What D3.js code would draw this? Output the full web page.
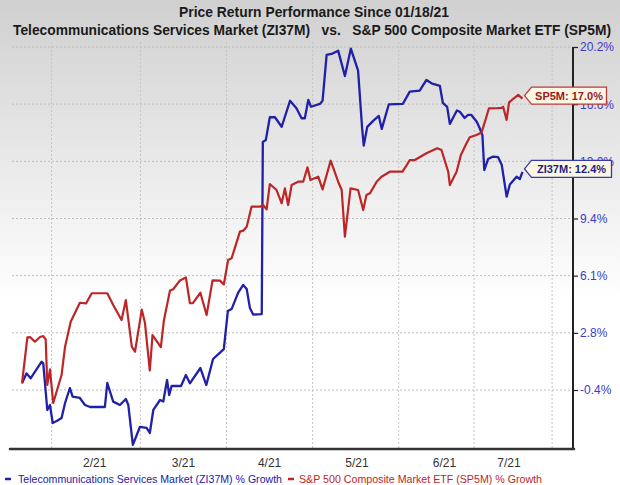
<!DOCTYPE html>
<html><head><meta charset="utf-8">
<script src="https://cdn.jsdelivr.net/npm/d3@7"></script>
<style>html,body{margin:0;padding:0;background:#fff}svg{display:block}</style>
</head><body>
<svg id="c" width="620" height="485"></svg>
<script>
// ---- data (days since 01/18/21, % growth) ----
const titleLines = ["Price Return Performance Since 01/18/21",
  "Telecommunications Services Market (ZI37M)   vs.   S&P 500 Composite Market ETF (SP5M)"];
const monthLabels = ["2/21","3/21","4/21","5/21","6/21","7/21"];
const monthLabelDays = [27, 60, 92, 124.5, 157, 181];
const gridDays = [11, 44, 76, 108, 140, 168, 197];
const yTickLabels = ["-0.4%","2.8%","6.1%","9.4%","13.0%","16.6%","20.2%"];
const seriesNames = ["Telecommunications Services Market (ZI37M) % Growth",
  "S&P 500 Composite Market ETF (SP5M) % Growth"];
const endLabels = ["ZI37M: 12.4%", "SP5M: 17.0%"];

const ziDays = [0,1.7,3.2,7.3,7.9,9.4,10.4,11.4,12.9,14.7,16.0,17.8,18.8,21.5,23.4,25.3,30.8,31.7,33.9,36.4,38.6,39.5,41.2,43.8,46.3,47.5,48.8,51.3,52.5,53.9,54.7,55.6,59.1,60.9,62.4,66.3,68.5,71.0,74.2,75.0,76.5,77.9,80.3,82.2,83.5,84.7,85.9,88.8,89.1,89.5,90.6,92.1,94.0,96.5,99.6,102.0,103.9,105.1,106.4,107.4,110.7,111.7,113.2,115.0,117.5,120.0,122.2,124.9,126.4,127.0,128.3,130.5,132.6,133.7,136.3,141.5,144.1,147.8,150.3,152.2,155.3,156.4,158.0,159.0,161.6,162.7,164.5,165.8,167.0,169.0,170.1,171.1,171.8,173.2,175.1,176.9,178.3,180.1,181.3,183.8,185.0,186.0];
const ziPct = [0,0.60,0.30,1.30,1.20,-1.60,-1.30,-2.38,-2.26,-2.08,-1.18,-0.28,-0.80,-0.88,-1.30,-1.42,-1.42,0.02,-1.10,-1.30,-0.94,-1.30,-3.70,-2.62,-2.68,-2.98,-1.60,-1.00,-1.09,0.20,-0.70,-0.16,-0.16,0.50,0.00,0.92,-0.10,1.46,1.94,2.06,4.34,4.46,5.43,5.91,5.67,4.52,4.13,4.16,4.16,14.50,14.61,15.98,15.98,15.41,16.97,16.52,15.92,15.92,17.02,16.61,16.78,16.97,19.72,19.78,19.98,18.46,20.10,18.78,15.32,14.28,15.40,15.76,16.06,15.28,16.75,16.78,17.52,17.58,18.22,18.02,17.86,16.84,16.60,15.58,16.39,16.31,15.94,16.12,16.12,15.71,15.32,14.91,12.81,13.47,13.62,13.59,13.11,11.21,11.94,12.41,12.27,12.70];

const spDays = [0,2.0,3.0,4.8,6.7,7.9,8.8,9.4,10.4,11.6,14.7,16.0,18.1,21.5,23.8,25.9,31.7,33.9,37.0,38.6,40.8,42.0,44.5,45.7,47.5,48.5,51.6,52.7,55.0,56.2,58.7,60.9,62.4,63.5,66.3,68.6,70.8,73.6,75.0,76.6,77.9,81.0,82.2,83.5,85.3,88.4,89.6,90.9,92.1,94.6,96.5,97.7,98.9,100.2,102.6,104.5,106.1,107.2,110.1,111.7,114.7,117.5,118.8,120.0,122.1,124.9,126.8,128.0,129.3,131.8,133.6,136.7,141.4,142.6,144.1,146.0,150.3,154.3,155.9,158.4,159.0,161.5,163.1,165.2,166.4,168.9,170.8,172.6,173.5,176.3,178.2,178.8,180.1,181.0,182.8,184.4,186.0];
const spPct = [0,2.76,2.78,2.50,2.78,2.84,2.64,-0.10,0.84,-1.18,0.50,2.20,3.70,4.84,4.80,5.41,5.41,4.70,3.80,5.00,2.20,1.90,4.43,3.62,0.77,2.90,2.18,3.74,5.58,5.65,6.18,6.36,4.81,4.82,5.44,4.10,6.18,6.17,5.94,7.41,7.51,9.11,9.17,9.41,10.61,10.61,10.71,10.45,11.97,11.61,10.81,11.71,10.71,11.91,12.11,12.11,12.97,12.21,12.41,11.65,13.37,12.11,11.61,8.81,11.71,11.61,10.41,11.31,11.41,12.11,12.41,12.71,12.71,13.01,13.41,13.41,13.82,14.12,14.01,12.71,11.91,12.71,13.71,14.42,14.78,14.92,15.07,16.01,16.51,16.52,16.54,16.61,15.82,16.87,17.12,17.32,17.10];

const blue = "#2020a8", red = "#bd2626";
const svg = d3.select("#c");
const W = 620, H = 485;
const plot = {l: 12, r: 573, t: 42, b: 449};

// background gradient
const defs = svg.append("defs");
const g0 = defs.append("linearGradient").attr("id","bg").attr("x1",0).attr("y1",0).attr("x2",0).attr("y2",1);
g0.append("stop").attr("offset","0%").attr("stop-color","#d0d0d0");
g0.append("stop").attr("offset","62%").attr("stop-color","#ffffff");
g0.append("stop").attr("offset","100%").attr("stop-color","#ffffff");
svg.append("rect").attr("width",W).attr("height",H).attr("fill","url(#bg)");

const x = d3.scaleLinear().domain([0,186]).range([22,522.5]);
const y = d3.scaleLinear().domain([-0.4,20.2]).range([390,47]);
const yTickValues = yTickLabels.map((d,i)=> -0.4 + i*(20.6/(yTickLabels.length-1)));

// grid
svg.append("g").selectAll("line").data(yTickValues).join("line")
  .attr("x1",plot.l).attr("x2",plot.r).attr("y1",d=>y(d)).attr("y2",d=>y(d))
  .attr("stroke","#bcbcbc").attr("stroke-width",1).attr("stroke-dasharray","2,2");
svg.append("g").selectAll("line").data(gridDays).join("line")
  .attr("x1",d=>x(d)).attr("x2",d=>x(d)).attr("y1",plot.t).attr("y2",plot.b)
  .attr("stroke","#c4c4c4").attr("stroke-width",1).attr("stroke-dasharray","2,2");

// right axis
const yAxis = d3.axisRight(y).tickValues(yTickValues).tickSize(5).tickPadding(2)
  .tickFormat((d,i)=>yTickLabels[i]);
const ya = svg.append("g").attr("transform",`translate(${plot.r},0)`).call(yAxis);
ya.select(".domain").remove();
ya.selectAll(".tick line").attr("stroke","#222").attr("stroke-width",1.2);
ya.selectAll(".tick text").attr("fill","#3b3bc4").attr("font-family","Liberation Sans, Arial, sans-serif").attr("font-size",12);
svg.append("line").attr("x1",plot.r).attr("x2",plot.r).attr("y1",y(20.2)).attr("y2",plot.b)
  .attr("stroke","#222").attr("stroke-width",2);
// bottom axis
svg.append("line").attr("x1",plot.l-2).attr("x2",plot.r+1).attr("y1",plot.b).attr("y2",plot.b)
  .attr("stroke","#333").attr("stroke-width",2.5).attr("stroke-linecap","round");
svg.append("g").selectAll("text").data(monthLabels).join("text")
  .attr("x",(d,i)=>x(monthLabelDays[i])).attr("y",467).attr("text-anchor","middle")
  .attr("font-family","Liberation Sans, Arial, sans-serif").attr("font-size",12).attr("fill","#333")
  .text(d=>d);

// lines
const line = d3.line().x(d=>x(d[0])).y(d=>y(d[1]));
const ziData = ziDays.map((d,i)=>[d,ziPct[i]]);
const spData = spDays.map((d,i)=>[d,spPct[i]]);
svg.append("path").datum(ziData).attr("d",line).attr("fill","none").attr("stroke",blue).attr("stroke-width",2.3).attr("stroke-linejoin","round");
svg.append("path").datum(spData).attr("d",line).attr("fill","none").attr("stroke",red).attr("stroke-width",2.2).attr("stroke-linejoin","round");

// end labels
function endLabel(lastDay, lastVal, text, color, textColor, w) {
  const tx = x(lastDay)+2, cy = y(lastVal)-3, h = 17;
  const bx = tx+7;
  const p = `M${tx},${cy} L${bx},${cy-h/2} L${bx+w},${cy-h/2} L${bx+w},${cy+h/2} L${bx},${cy+h/2} Z`;
  svg.append("path").attr("d",p).attr("fill","#fcf6e4").attr("stroke",color).attr("stroke-width",1.3);
  svg.append("text").attr("x",bx+w/2).attr("y",cy+4).attr("text-anchor","middle")
    .attr("font-family","Liberation Sans, Arial, sans-serif").attr("font-weight","bold").attr("font-size",11)
    .attr("fill",textColor).text(text);
}
endLabel(ziDays[ziDays.length-1], ziPct[ziPct.length-1], endLabels[0], "#3a3ab0", "#1e1e80", 80);
endLabel(spDays[spDays.length-1], spPct[spPct.length-1], endLabels[1], "#c03a3a", "#9a1a1a", 75);

// title
svg.append("text").attr("x",314).attr("y",17).attr("text-anchor","middle")
  .attr("font-family","Liberation Sans, Arial, sans-serif").attr("font-weight","bold").attr("font-size",14.5)
  .attr("fill","#1a1a1a").attr("textLength",270).attr("lengthAdjust","spacingAndGlyphs").text(titleLines[0]);
svg.append("text").attr("x",312).attr("y",35).attr("text-anchor","middle")
  .attr("font-family","Liberation Sans, Arial, sans-serif").attr("font-weight","bold").attr("font-size",14)
  .attr("fill","#1a1a1a").attr("textLength",598).attr("lengthAdjust","spacingAndGlyphs")
  .attr("xml:space","preserve").style("white-space","pre").text(titleLines[1]);

// legend
const lg = svg.append("g").attr("font-family","Liberation Sans, Arial, sans-serif").attr("font-size",10.5);
lg.append("line").attr("x1",5).attr("x2",11).attr("y1",479).attr("y2",479).attr("stroke",blue).attr("stroke-width",2.5);
lg.append("text").attr("x",18).attr("y",483).attr("fill",blue).attr("textLength",264).attr("lengthAdjust","spacingAndGlyphs").text(seriesNames[0]);
lg.append("line").attr("x1",288).attr("x2",294).attr("y1",479).attr("y2",479).attr("stroke",red).attr("stroke-width",2.5);
lg.append("text").attr("x",299).attr("y",483).attr("fill",red).attr("textLength",243).attr("lengthAdjust","spacingAndGlyphs").text(seriesNames[1]);
</script>
</body></html>
